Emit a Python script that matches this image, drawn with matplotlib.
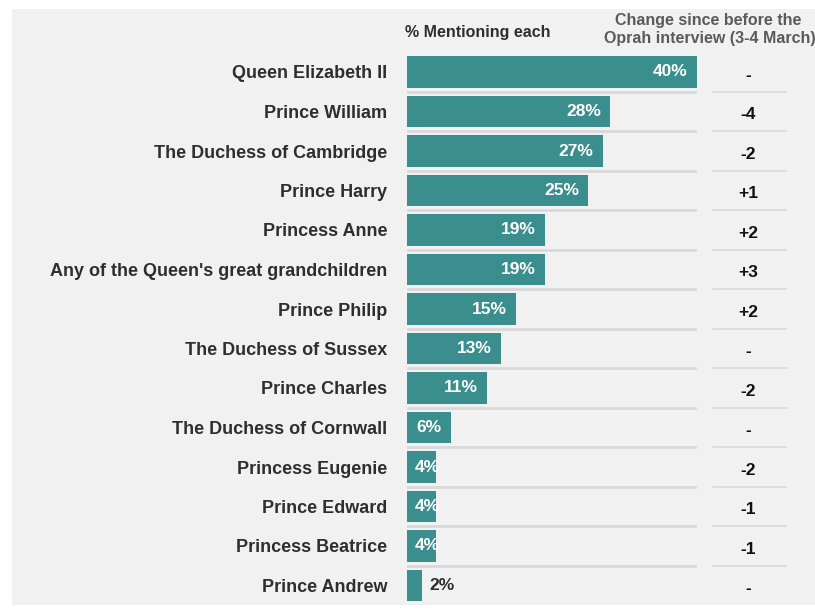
import matplotlib.pyplot as plt
from matplotlib.patches import Rectangle

plt.rcParams['font.family'] = ['Liberation Sans', 'DejaVu Sans']

names = ["Queen Elizabeth II", "Prince William", "The Duchess of Cambridge",
         "Prince Harry", "Princess Anne", "Any of the Queen's great grandchildren",
         "Prince Philip", "The Duchess of Sussex", "Prince Charles",
         "The Duchess of Cornwall", "Princess Eugenie", "Prince Edward",
         "Princess Beatrice", "Prince Andrew"]
pct = [40, 28, 27, 25, 19, 19, 15, 13, 11, 6, 4, 4, 4, 2]
change = ["-", "-4", "-2", "+1", "+2", "+3", "+2", "-", "-2", "-", "-2", "-1", "-1", "-"]

teal = "#3a8f8e"
grey_bg = "#f1f1f1"
line_c = "#d9d9d9"
text_c = "#2e2e2e"

W, H = 815, 611
fig = plt.figure(figsize=(W / 100, H / 100), dpi=100, facecolor="white")
fig.patches.append(Rectangle((12 / W, 6 / H), 1, 1 - 15 / H, transform=fig.transFigure,
                             facecolor=grey_bg, edgecolor="none", zorder=-10))

# axes geometry in pixels
x0, x1 = 407, 787
px_per_pct = 7.25
row0, step = 72, 39.5
top = row0 - step / 2
bottom = row0 + step * (len(names) - 0.5)
ax = fig.add_axes([x0 / W, 1 - bottom / H, (x1 - x0) / W, (bottom - top) / H])
ax.set_facecolor("none")
xmax = (x1 - x0) / px_per_pct
ax.set_xlim(0, xmax)
ax.set_ylim(len(names) - 0.5, -0.5)

ys = list(range(len(names)))
bars = ax.barh(ys, pct, height=0.8, color=teal, zorder=3)

bar_end = (695 - x0) / px_per_pct
chg_l = (713 - x0) / px_per_pct
chg_x = (748 - x0) / px_per_pct
for i in range(len(names) - 1):
    ax.plot([0, bar_end], [i + 0.5, i + 0.5], color=line_c, lw=2, zorder=1)
    ax.plot([chg_l, xmax], [i + 0.5, i + 0.5], color=line_c, lw=1.2, zorder=1)

for bar, v, y in zip(bars, pct, ys):
    if v >= 4:
        t = ax.text(max(v - 1.25, 4.6), y, f"{v}%", ha="right", va="center",
                    color="white", fontsize=12.5, fontweight="bold", zorder=4)
        t.set_clip_path(bar)
    else:
        ax.text(v + 1.1, y, f"{v}%", ha="left", va="center",
                color=text_c, fontsize=12.5, fontweight="bold", zorder=4)

for c, y in zip(change, ys):
    ax.text(chg_x, y + 0.08, c, ha="center", va="center", color="#111111",
            fontsize=12.5, fontweight="bold")

ax.set_yticks(ys)
ax.set_yticklabels(names, fontsize=13, fontweight="bold", color=text_c)
ax.tick_params(axis="y", length=0, pad=14)
ax.set_xticks([])
for s in ax.spines.values():
    s.set_visible(False)

fig.text(405 / W, 1 - 33 / H, "% Mentioning each", ha="left", va="center",
         fontsize=11.5, fontweight="bold", color=text_c)
fig.text(708 / W, 1 - 20 / H, "Change since before the", ha="center", va="center",
         fontsize=11.5, fontweight="bold", color="#5a5a5a")
fig.text(710 / W, 1 - 38 / H, "Oprah interview (3-4 March)", ha="center", va="center",
         fontsize=11.5, fontweight="bold", color="#5a5a5a")

fig.savefig("out.png", dpi=100, facecolor=fig.get_facecolor())
